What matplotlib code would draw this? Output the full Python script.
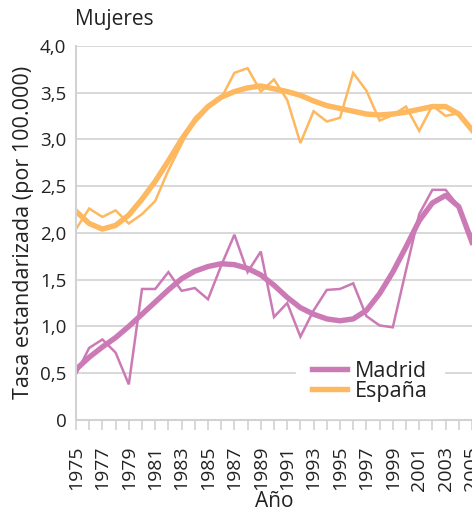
import matplotlib.pyplot as plt
import numpy as np

plt.rcParams['font.family'] = ['Open Sans', 'DejaVu Sans']

# Años 1975-2005
years = np.arange(1975, 2006)

# Tasa anual (línea fina) y tendencia suavizada (línea gruesa)
madrid = [0.49, 0.77, 0.86, 0.72, 0.38, 1.40, 1.40, 1.58, 1.38, 1.41,
          1.29, 1.65, 1.98, 1.58, 1.80, 1.10, 1.25, 0.89, 1.17, 1.39,
          1.40, 1.46, 1.11, 1.01, 0.99, 1.60, 2.20, 2.46, 2.46, 2.28,
          1.95]
madrid_trend = [0.54, 0.67, 0.78, 0.88, 1.00, 1.13, 1.26, 1.39, 1.51, 1.59,
                1.64, 1.67, 1.66, 1.62, 1.55, 1.44, 1.31, 1.20, 1.13, 1.08,
                1.06, 1.08, 1.17, 1.35, 1.58, 1.85, 2.13, 2.32, 2.40, 2.28,
                1.90]
espana = [2.04, 2.26, 2.17, 2.24, 2.10, 2.20, 2.34, 2.67, 2.95, 3.23,
          3.36, 3.44, 3.71, 3.76, 3.51, 3.64, 3.42, 2.96, 3.30, 3.19,
          3.23, 3.71, 3.52, 3.20, 3.26, 3.35, 3.09, 3.36, 3.25, 3.28,
          3.08]
espana_trend = [2.23, 2.10, 2.04, 2.08, 2.19, 2.36, 2.55, 2.77, 3.00, 3.20,
                3.35, 3.45, 3.51, 3.55, 3.57, 3.54, 3.51, 3.47, 3.41, 3.36,
                3.33, 3.30, 3.27, 3.26, 3.27, 3.29, 3.32, 3.35, 3.35, 3.27,
                3.10]

c_mad = '#cc7ab5'
c_esp = '#fdb860'
grey = '#d2d2d2'
txt = '#222222'

fig = plt.figure(figsize=(4.72, 5.14), dpi=100)
ax = fig.add_axes([0.161, 0.183, 0.839, 0.728])

ax.plot(years, madrid, color=c_mad, lw=1.8, solid_joinstyle='miter')
ax.plot(years, espana, color=c_esp, lw=1.8, solid_joinstyle='miter')
l1, = ax.plot(years, madrid_trend, color=c_mad, lw=3.9, label='Madrid')
l2, = ax.plot(years, espana_trend, color=c_esp, lw=3.9, label='España')

ax.set_xlim(1975, 2005)
ax.set_ylim(0, 4)
ax.set_yticks(np.arange(0, 4.01, 0.5))
ax.set_yticklabels(['0'] + [f'{v:.1f}'.replace('.', ',') for v in np.arange(0.5, 4.01, 0.5)])
ax.set_xticks(years)
ax.set_xticklabels([str(y) if y % 2 == 1 else '' for y in years], rotation=90)

ax.grid(axis='y', color=grey, lw=1.2)
ax.set_axisbelow(True)
for s in ['top', 'right']:
    ax.spines[s].set_visible(False)
for s in ['left', 'bottom']:
    ax.spines[s].set_color(grey)
    ax.spines[s].set_linewidth(1.5)
ax.tick_params(axis='x', length=7.5, color=grey, width=1.2, labelsize=14, labelcolor=txt, pad=11)
ax.tick_params(axis='y', length=0, labelsize=13.5, labelcolor=txt, pad=7)

ax.set_ylabel('Tasa estandarizada (por 100.000)', fontsize=15.5, color=txt, labelpad=4)
ax.set_xlabel('Año', fontsize=15, color=txt, labelpad=0)
fig.text(0.159, 0.962, 'Mujeres', fontsize=15, color=txt, ha='left', va='center')

leg = ax.legend(handles=[l1, l2], loc='lower right', bbox_to_anchor=(0.93, 0.006),
                frameon=True, fontsize=15.5, handlelength=1.6, handletextpad=0.4,
                labelspacing=-0.05, borderpad=0.75, borderaxespad=0)
leg.get_frame().set_edgecolor('white')
leg.get_frame().set_facecolor('white')
leg.get_frame().set_alpha(1)
for t in leg.get_texts():
    t.set_color(txt)

fig.savefig('out.png', dpi=100)
